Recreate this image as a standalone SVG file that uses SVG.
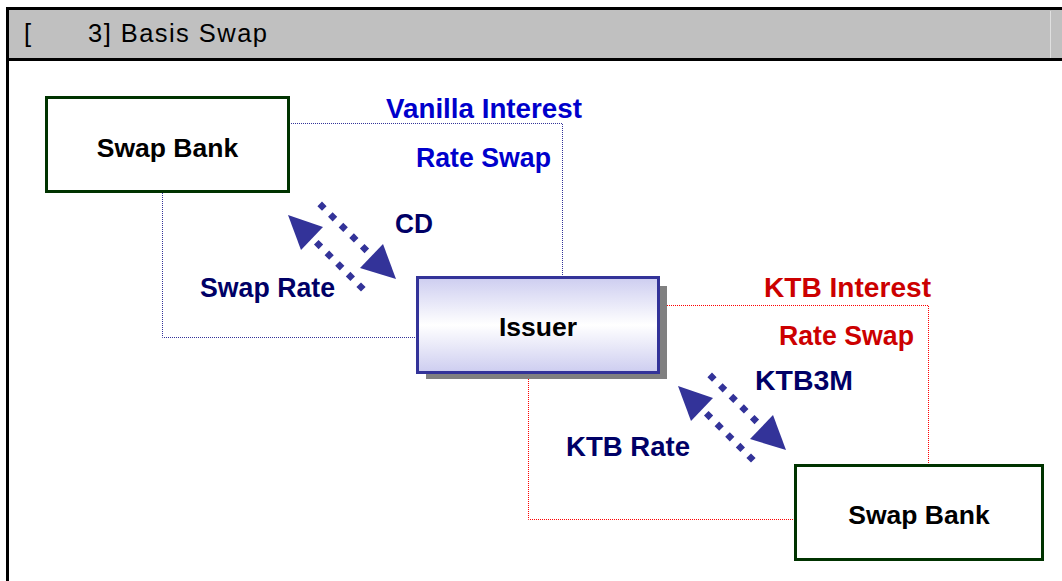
<svg xmlns="http://www.w3.org/2000/svg" width="1062" height="581" viewBox="0 0 1062 581">
<style>
.lbl{font-family:"Liberation Sans",Arial,sans-serif;font-weight:bold;font-size:27px}
.blue{fill:#0000CC}
.navy{fill:#000066}
.red{fill:#CC0000}
.node{font-family:"Liberation Sans",Arial,sans-serif;font-weight:bold;font-size:26.5px;fill:#000;text-anchor:middle}
.bank{fill:#fff;stroke:#003300;stroke-width:3}
.cb{fill:none;stroke:#333399;stroke-width:1;stroke-dasharray:1 1}
.cr{fill:none;stroke:#FF0000;stroke-width:1;stroke-dasharray:1 1}
.dash{stroke:#333399;stroke-width:6.5;stroke-dasharray:6.5 8.5;fill:none}
.head{fill:#333399}
</style>
<defs>
<linearGradient id="g" x1="0" y1="0" x2="0" y2="1">
<stop offset="0" stop-color="#CDCDF0"/>
<stop offset="0.5" stop-color="#FFFFFF"/>
<stop offset="1" stop-color="#CDCDF0"/>
</linearGradient>
</defs>
<rect x="0" y="0" width="1062" height="581" fill="#fff"/>
<g id="header">
<rect x="8" y="8.5" width="1060" height="51" fill="#C0C0C0"/>
<line x1="6" y1="8.5" x2="1062" y2="8.5" stroke="#000" stroke-width="3"/>
<line x1="6" y1="59.5" x2="1062" y2="59.5" stroke="#000" stroke-width="3"/>
<line x1="1050.5" y1="11" x2="1050.5" y2="58" stroke="#E0E0E0" stroke-width="1"/>
<line x1="7.5" y1="7" x2="7.5" y2="581" stroke="#000" stroke-width="3"/>
<text x="24" y="42" font-family="Liberation Sans,Arial,sans-serif" font-size="25.5" fill="#000">[</text>
<text x="88" y="42" font-family="Liberation Sans,Arial,sans-serif" font-size="25.5" fill="#000" textLength="179" lengthAdjust="spacing">3] Basis Swap</text>
</g>
<g id="connectors">
<polyline class="cb" points="289,123.5 562.5,123.5 562.5,277"/>
<polyline class="cb" points="162.5,191 162.5,337.5 417,337.5"/>
<polyline class="cr" points="667,305.5 928.5,305.5 928.5,465"/>
<polyline class="cr" points="528.5,379 528.5,519.5 795,519.5"/>
</g>
<g id="arrows1">
<line class="dash" x1="319.7" y1="203.9" x2="374" y2="258"/>
<polygon class="head" points="396,279 360,268 383,244"/>
<line class="dash" x1="363.3" y1="289.3" x2="310" y2="236"/>
<polygon class="head" points="288,215 301,250 323,227"/>
</g>
<g id="arrows2">
<line class="dash" x1="709.7" y1="374.9" x2="764" y2="429"/>
<polygon class="head" points="786,450 750,439 773,415"/>
<line class="dash" x1="753.3" y1="460.3" x2="700" y2="407"/>
<polygon class="head" points="678,386 691,421 713,398"/>
</g>
<g id="swapbank1">
<rect class="bank" x="46.5" y="97.5" width="242" height="94"/>
<text class="node" x="167.5" y="157">Swap Bank</text>
</g>
<g id="issuer">
<rect x="426" y="286" width="241" height="93" fill="#808080"/>
<rect x="417.5" y="277.5" width="241" height="95" fill="url(#g)" stroke="#333399" stroke-width="3"/>
<text class="node" x="538" y="336">Issuer</text>
</g>
<g id="swapbank2">
<rect class="bank" x="795.5" y="465.5" width="247" height="94"/>
<text class="node" x="919" y="524">Swap Bank</text>
</g>
<g id="labels">
<text class="lbl blue" x="386" y="118" textLength="196" lengthAdjust="spacingAndGlyphs">Vanilla Interest</text>
<text class="lbl blue" x="416" y="167" textLength="135" lengthAdjust="spacingAndGlyphs">Rate Swap</text>
<text class="lbl navy" x="395" y="233" textLength="38" lengthAdjust="spacingAndGlyphs">CD</text>
<text class="lbl navy" x="200" y="297" textLength="135" lengthAdjust="spacingAndGlyphs">Swap Rate</text>
<text class="lbl red" x="764" y="297" textLength="167" lengthAdjust="spacingAndGlyphs">KTB Interest</text>
<text class="lbl red" x="779" y="345" textLength="135" lengthAdjust="spacingAndGlyphs">Rate Swap</text>
<text class="lbl navy" x="755" y="390" textLength="98" lengthAdjust="spacingAndGlyphs">KTB3M</text>
<text class="lbl navy" x="566" y="456" textLength="124" lengthAdjust="spacingAndGlyphs">KTB Rate</text>
</g>
</svg>
